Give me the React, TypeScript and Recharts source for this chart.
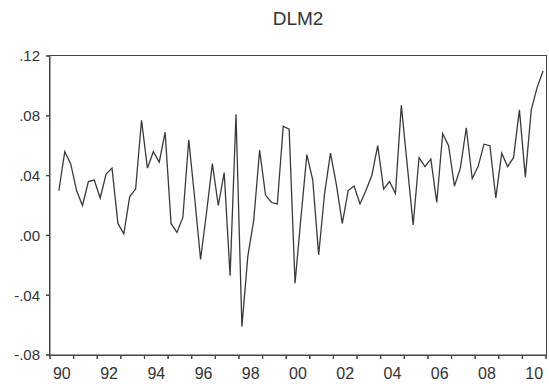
import { LineChart, Line, XAxis, YAxis } from "recharts";

// quarterly DLM2, first obs 1990Q2
const startYear = 1990;
const startQuarter = 2;
const dlm2 = [
  0.030, 0.056, 0.048,
  0.030, 0.020, 0.036, 0.037,
  0.025, 0.041, 0.045, 0.008,
  0.001, 0.026, 0.031, 0.077,
  0.045, 0.056, 0.049, 0.069,
  0.008, 0.002, 0.012, 0.064,
  0.025, -0.016, 0.015, 0.048,
  0.020, 0.042, -0.027, 0.081,
  -0.061, -0.014, 0.010, 0.057,
  0.027, 0.022, 0.021, 0.073,
  0.071, -0.032, 0.012, 0.054,
  0.037, -0.013, 0.028, 0.055,
  0.034, 0.008, 0.030, 0.033,
  0.021, 0.030, 0.040, 0.060,
  0.031, 0.036, 0.028, 0.087,
  0.047, 0.007, 0.052, 0.046,
  0.051, 0.022, 0.068, 0.060,
  0.033, 0.045, 0.072, 0.038,
  0.046, 0.061, 0.060, 0.025,
  0.055, 0.046, 0.052, 0.084,
  0.039, 0.084, 0.099, 0.110,
];
const yTicks = [-0.08, -0.04, 0, 0.04, 0.08, 0.12];
const yearTicks = Array.from({ length: 22 }, (_, i) => 1990 + i);
const labelYears = [1990, 1992, 1994, 1996, 1998, 2000, 2002, 2004, 2006, 2008, 2010];

const data = dlm2.map((v, i) => {
  const q = startQuarter - 1 + i;
  return { t: startYear + Math.floor(q / 4) + ((q % 4) + 0.5) / 4, dlm2: v };
});

const font = "Liberation Sans, Arial, sans-serif";
const ink = "#333";
const frame = "#444";
const W = 549;
const H = 384;
const margin = { top: 56, right: 3, bottom: 0, left: 0 };
const yAxisW = 50;
const xAxisH = 29;
const TICK = 4;
const X_GAP = 9;
const Y_GAP = 6;
const plotW = W - margin.left - margin.right - yAxisW;
const plotH = H - margin.top - margin.bottom - xAxisH;
const yearPx = plotW / (yearTicks.length - 1);

const fmtY = (v: number) => {
  const s = Math.abs(v).toFixed(2).replace(/^0/, "");
  return v < 0 ? "-" + s : s;
};

// tick mark at every year, label (even years) in the middle of the year
const YearTick = (props: any) => {
  const { x, y, payload } = props;
  const yr = payload.value as number;
  const top = y - X_GAP - TICK;
  return (
    <g>
      <line x1={x} x2={x} y1={top} y2={top + TICK} stroke={frame} strokeWidth={1.2} />
      {labelYears.includes(yr) && (
        <text x={x + yearPx / 2} y={y} dy="0.71em" textAnchor="middle" fill={ink} fontSize={16} fontFamily={font}>
          {String(yr % 100).padStart(2, "0")}
        </text>
      )}
    </g>
  );
};

const ValueTick = (props: any) => {
  const { x, y, payload } = props;
  const ax = x + Y_GAP + TICK;
  return (
    <g>
      <line x1={ax - TICK} x2={ax} y1={y} y2={y} stroke={frame} strokeWidth={1.2} />
      <text x={x} y={y} dy="0.355em" textAnchor="end" fill={ink} fontSize={15} fontFamily={font}>
        {fmtY(payload.value)}
      </text>
    </g>
  );
};

export default function App() {
  return (
    <div style={{ position: "absolute", left: 0, top: 0, width: W, height: H, background: "#fff" }}>
      <LineChart width={W} height={H} data={data} margin={margin}>
        <XAxis dataKey="t" type="number" domain={[1990, 2011]} ticks={yearTicks} interval={0}
          height={xAxisH} tickSize={TICK} tickMargin={X_GAP} stroke={frame} tick={<YearTick />} />
        <YAxis type="number" domain={[-0.08, 0.12]} ticks={yTicks} width={yAxisW} interval={0}
          tickSize={TICK} tickMargin={Y_GAP} stroke={frame} tick={<ValueTick />} />
        <Line type="linear" dataKey="dlm2" stroke="#3a3a3a" strokeWidth={1.3}
          dot={false} isAnimationActive={false} />
      </LineChart>
      <div style={{ position: "absolute", left: margin.left + yAxisW - 1, top: margin.top - 1, width: plotW + 2, height: plotH + 2,
        boxSizing: "border-box", border: `1.5px solid ${frame}`, pointerEvents: "none" }} />
      <div style={{ position: "absolute", left: yAxisW, width: plotW, top: 8, textAlign: "center", fontFamily: font, fontSize: 19, color: ink }}>
        DLM2
      </div>
    </div>
  );
}
